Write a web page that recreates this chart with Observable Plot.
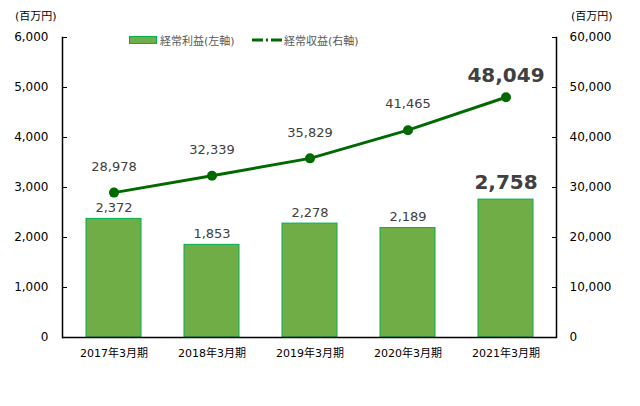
<!DOCTYPE html>
<html><head><meta charset="utf-8">
<script src="https://cdn.jsdelivr.net/npm/d3@7"></script>
<script src="https://cdn.jsdelivr.net/npm/@observablehq/plot@0.6"></script>
<style>
body{margin:0;background:#fff;font-family:Verdana,"DejaVu Sans","Noto Sans CJK JP",sans-serif;}
#wrap{position:relative;width:640px;height:406px;}
.ov{position:absolute;font-size:11px;white-space:nowrap;}
</style></head><body>
<div id="wrap"></div>
<script>
const periods = ["2017年3月期","2018年3月期","2019年3月期","2020年3月期","2021年3月期"];
const ordinaryProfit = [2372,1853,2278,2189,2758];      // 経常利益 (左軸, 百万円)
const ordinaryRevenue = [28978,32339,35829,41465,48049]; // 経常収益 (右軸, 百万円)
const leftTicks = [0,1000,2000,3000,4000,5000,6000];

const data = periods.map((p,i)=>({period:p, profit:ordinaryProfit[i], revenue:ordinaryRevenue[i], last:i===periods.length-1}));
const fmt = d3.format(",");
const font = 'Verdana,"DejaVu Sans","Noto Sans CJK JP",sans-serif';

const chart = Plot.plot({
  width:640, height:406,
  marginLeft:62, marginRight:84, marginTop:37, marginBottom:69,
  style:{fontFamily:font, background:"#fff", overflow:"visible"},
  x:{domain:periods, paddingInner:0.44, paddingOuter:0.22, label:null},
  y:{domain:[0,6000], label:null},
  marks:[
    Plot.barY(data,{x:"period", y:"profit", fill:"#70AD47", stroke:"#00B050", strokeWidth:1}),
    Plot.line(data,{x:"period", y:d=>d.revenue/10, stroke:"#006A00", strokeWidth:3}),
    Plot.dot(data,{x:"period", y:d=>d.revenue/10, r:5, fill:"#006A00"}),
    Plot.text(data.filter(d=>!d.last),{x:"period", y:"profit", text:d=>fmt(d.profit), dy:-11, fontSize:13, fill:"#404040"}),
    Plot.text(data.filter(d=>d.last),{x:"period", y:"profit", text:d=>fmt(d.profit), dy:-17, fontSize:20, fontWeight:"bold", fill:"#404040"}),
    Plot.text(data.filter(d=>!d.last),{x:"period", y:d=>d.revenue/10, text:d=>fmt(d.revenue), dy:-26, fontSize:13, fill:"#404040"}),
    Plot.text(data.filter(d=>d.last),{x:"period", y:d=>d.revenue/10, text:d=>fmt(d.revenue), dy:-22, fontSize:20, fontWeight:"bold", fill:"#404040"}),
    Plot.axisY({anchor:"left", ticks:leftTicks, tickFormat:fmt, tickSize:5, tickPadding:14, dx:5, fontSize:12, color:"#000", label:null}),
    Plot.axisY({anchor:"right", ticks:leftTicks, tickFormat:d=>fmt(d*10), tickSize:5, tickPadding:13, dx:-5, fontSize:12, color:"#000", label:null}),
    Plot.axisX({tickSize:0, tickPadding:12, fontSize:11, color:"#000", label:null}),
    Plot.frame({anchor:"left", stroke:"#000", strokeWidth:1.5}),
    Plot.frame({anchor:"right", stroke:"#000", strokeWidth:1.5}),
    Plot.ruleY([0],{stroke:"#000", strokeWidth:1.5})
  ]
});
const wrap = document.getElementById("wrap");
wrap.appendChild(chart);

function ov(html, left, top){
  const d=document.createElement("div"); d.className="ov"; d.innerHTML=html;
  d.style.left=left+"px"; d.style.top=top+"px"; wrap.appendChild(d); return d;
}
ov("(百万円)",15,7).style.color="#000";
ov("(百万円)",571,7).style.color="#000";
ov('<svg width="28" height="8" style="vertical-align:middle"><rect x="0.5" y="0.5" width="27" height="7" fill="#70AD47" stroke="#00B050"/></svg><span style="color:#595959;margin-left:3px;vertical-align:middle">経常利益(左軸)</span>',129,32);
ov('<svg width="30" height="8" style="vertical-align:middle"><line x1="0" y1="4" x2="30" y2="4" stroke="#006A00" stroke-width="3" stroke-dasharray="11,3,2,3"/></svg><span style="color:#595959;margin-left:2px;vertical-align:middle">経常収益(右軸)</span>',252,32);
</script>
</body></html>
